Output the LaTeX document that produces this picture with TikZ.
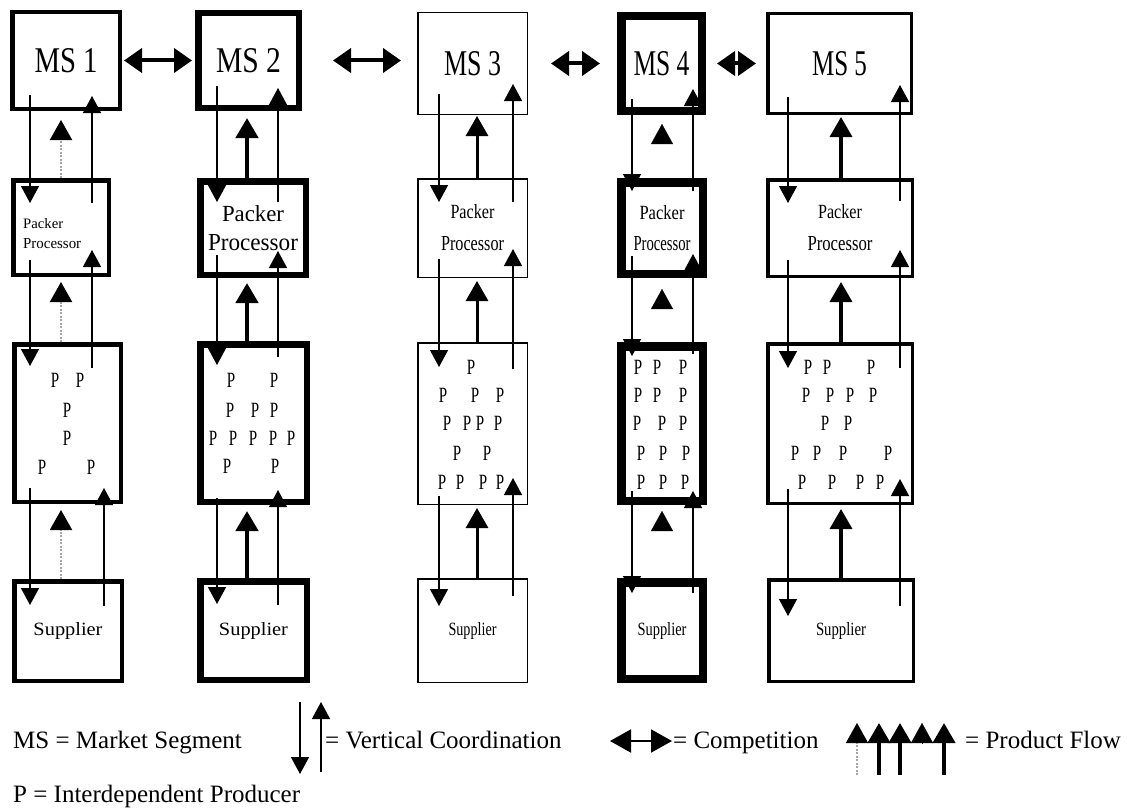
\documentclass[tikz,border=0pt]{standalone}
\usepackage{fontspec}
\setmainfont{Liberation Serif}
\usepackage{graphicx}
\usetikzlibrary{arrows.meta,calc}
\newcommand{\rt}[3]{\resizebox{#1pt}{#2pt}{#3}}
\newcommand{\Pl}{\scalebox{1}[1.45]{P}}
% box: name, x1, y1, x2, y2, line width, extra options, text
\newcommand{\bx}[8]{\node[bxs, line width=#6pt, minimum width={(#4-#2-#6)*1pt}, minimum height={(#5-#3-#6)*1pt}, #7] (#1) at ({(#2+#4)/2},{(#3+#5)/2}) {#8};}
% vertical coordination arrow: x coordinate, from, to, extension at start, extension at end
\newcommand{\va}[5]{\draw[vc, shorten <=-#4pt, shorten >=-#5pt] (#2 -| #1) -- (#3 -| #1);}
% product flow arrow: x coordinate, from, to, shorten at end, style
\newcommand{\pa}[5]{\draw[#5, shorten >=#4pt] (#2 -| #1) -- (#3 -| #1);}
\begin{document}
\begin{tikzpicture}[x=1pt,y=-1pt,
  bxs/.style={draw, rectangle, inner sep=0pt, align=center},
  vc/.style={line width=1.4pt, -{Triangle[width=18pt,length=17pt]}},
  pf/.style={-{Triangle[width=22pt,length=20pt]}},
  pfdot/.style={draw=black!35, line width=2pt, dash pattern=on 2pt off 1.5pt, -{Triangle[width=22pt,length=20pt,color=black]}},
  pfh/.style={line width=0.2pt, -{Triangle[width=22pt,length=20pt]}},
  comp/.style={line width=4pt, {Triangle[width=24pt,length=18pt]}-{Triangle[width=24pt,length=18pt]}},
  lcomp/.style={line width=2pt, {Triangle[width=23pt,length=21pt]}-{Triangle[width=23pt,length=21pt]}},
  pl/.style={inner sep=0pt, font=\fontsize{15}{15}\selectfont},
  leg/.style={inner sep=0pt, anchor=base west, font=\fontsize{25}{30}\selectfont}
]
\fill[white] (0,0) rectangle (1127,808);
\useasboundingbox (0,0) rectangle (1127,808);

% ---------- boxes ----------
\bx{ms1}{10}{10}{122}{111}{4.5}{}{\rt{63}{24}{MS 1}}
\bx{pp1}{11}{178}{111}{277}{4.5}{}{}
\bx{pb1}{12}{342}{123}{504}{4.5}{}{}
\bx{su1}{12}{579}{124}{683}{4.5}{}{\rt{69}{13}{Supplier}}
\node[inner sep=0pt, anchor=north west, align=left, font=\fontsize{10}{20}\selectfont] (pt1) at (23,218) {\rt{40}{10}{Packer}\\\rt{58}{10}{Processor}};

\bx{ms2}{195}{10}{302}{111}{6.5}{}{\rt{65}{24}{MS 2}}
\bx{pp2}{197}{178}{309}{278}{6.5}{font=\fontsize{16}{29}\selectfont}{\rt{62}{16}{Packer}\\\rt{90}{16}{Processor}}
\bx{pb2}{197}{341}{310}{505}{6.5}{}{}
\bx{su2}{197}{578}{310}{683}{6.5}{}{\rt{69}{13}{Supplier}}

\bx{ms3}{417}{12}{528}{115}{1.5}{}{\rt{57}{24}{MS 3}}
\bx{pp3}{417}{178}{528}{278}{1.5}{font=\fontsize{14}{32}\selectfont}{\rt{44}{14}{Packer}\\\rt{63}{14}{Processor}}
\bx{pb3}{417}{342}{528}{505}{1.5}{}{}
\bx{su3}{417}{578}{528}{683}{1.5}{}{\rt{48}{13}{Supplier}}

\bx{ms4}{617}{12}{706}{115}{8.5}{}{\rt{56}{24}{MS 4}}
\bx{pp4}{617}{178}{707}{278}{8.5}{font=\fontsize{14}{31}\selectfont}{\rt{45}{14}{Packer}\\\rt{57}{14}{Processor}}
\bx{pb4}{617}{342}{707}{505}{8.5}{}{}
\bx{su4}{617}{578}{707}{683}{8.5}{}{\rt{49}{13}{Supplier}}

\bx{ms5}{766}{12}{913}{115}{3.5}{}{\rt{55}{24}{MS 5}}
\bx{pp5}{766}{178}{914}{278}{3.5}{font=\fontsize{14}{32}\selectfont}{\rt{44}{14}{Packer}\\\rt{65}{14}{Processor}}
\bx{pb5}{766}{342}{914}{505}{3.5}{}{}
\bx{su5}{767}{578}{915}{683}{3.5}{}{\rt{50}{13}{Supplier}}

% ---------- interdependent producers ----------
\foreach \x/\y [count=\i] in {55/380,80/380,67/410,67/438,42/467,91/467}
  \node[pl] (qa\i) at (\x,\y) {\Pl};
\foreach \x/\y [count=\i] in {231/380,274/380,230/410,255/410,274/410,213/438,233/438,253/438,273/438,291/438,227/466,275/466}
  \node[pl] (qb\i) at (\x,\y) {\Pl};
\foreach \x/\y [count=\i] in {471/367,443/395,475/395,500/395,447/423,467/423,480/423,498/423,457/453,487/453,442/482,460/482,483/482,500/482}
  \node[pl] (qc\i) at (\x,\y) {\Pl};
\foreach \x/\y [count=\i] in {638/367,657/367,683/367,638/395,657/395,683/395,637/423,662/423,683/423,641/453,663/453,686/453,641/482,663/482,685/482}
  \node[pl] (qd\i) at (\x,\y) {\Pl};
\foreach \x/\y [count=\i] in {808/367,827/367,871/367,806/395,830/395,850/395,873/395,825/423,848/423,795/453,817/453,843/453,888/453,802/482,832/482,860/482,880/482}
  \node[pl] (qe\i) at (\x,\y) {\Pl};

% ---------- arrow columns ----------
\coordinate (c1L) at (30,0);  \coordinate (c1P) at (61,0);  \coordinate (c1R) at (92,0); \coordinate (c1S) at (104,0);
\coordinate (c2L) at (217,0); \coordinate (c2P) at (247,0); \coordinate (c2R) at (278,0);
\coordinate (c3L) at (439,0); \coordinate (c3P) at (477,0); \coordinate (c3R) at (513,0);
\coordinate (c4L) at (632,0); \coordinate (c4P) at (662,0); \coordinate (c4R) at (693,0);
\coordinate (c5L) at (788,0); \coordinate (c5P) at (841,0); \coordinate (c5R) at (900,0);

% column 1
\va{c1L}{ms1.south}{pp1.north}{16}{25}
\va{c1R}{pp1.north}{ms1.south}{25}{15}
\pa{c1P}{pp1.north}{ms1.south}{9}{pfdot}
\va{c1L}{pp1.south}{pb1.north}{17}{24}
\va{c1R}{pb1.north}{pp1.south}{26}{27}
\pa{c1P}{pb1.north}{pp1.south}{5}{pfdot}
\va{c1L}{pb1.south}{su1.north}{16}{26}
\va{c1S}{su1.north}{pb1.south}{27}{16}
\pa{c1P}{su1.north}{pb1.south}{6}{pfdot}

% column 2
\va{c2L}{ms2.south}{pp2.north}{25}{24}
\va{c2R}{pp2.north}{ms2.south}{24}{23}
\pa{c2P}{pp2.north}{ms2.south}{7}{pf,line width=4.5pt}
\va{c2L}{pp2.south}{pb2.north}{23}{24}
\va{c2R}{pb2.north}{pp2.south}{16}{27}
\pa{c2P}{pb2.north}{pp2.south}{5}{pf,line width=4.5pt}
\va{c2L}{pb2.south}{su2.north}{7}{26}
\va{c2R}{su2.north}{pb2.south}{27}{15}
\pa{c2P}{su2.north}{pb2.south}{6}{pf,line width=4.5pt}

% column 3
\va{c3L}{ms3.south}{pp3.north}{21}{24}
\va{c3R}{pp3.north}{ms3.south}{24}{31}
\pa{c3P}{pp3.north}{ms3.south}{1}{pf,line width=3pt}
\va{c3L}{pp3.south}{pb3.north}{19}{25}
\va{c3R}{pb3.north}{pp3.south}{27}{29}
\pa{c3P}{pb3.north}{pp3.south}{3}{pf,line width=3pt}
\va{c3L}{pb3.south}{su3.north}{9}{28}
\va{c3R}{su3.north}{pb3.south}{18}{27}
\pa{c3P}{su3.north}{pb3.south}{3}{pf,line width=3pt}

% column 4
\va{c4L}{ms4.south}{pp4.north}{16}{13}
\va{c4R}{pp4.north}{ms4.south}{13}{26}
\draw[pfh, shorten <=42pt, shorten >=9pt] (pp4.north -| c4P) -- (ms4.south -| c4P);
\va{c4L}{pp4.south}{pb4.north}{22}{14}
\va{c4R}{pb4.north}{pp4.south}{12}{24}
\draw[pfh, shorten <=41pt, shorten >=11pt] (pb4.north -| c4P) -- (pp4.south -| c4P);
\va{c4L}{pb4.south}{su4.north}{14}{15}
\va{c4R}{su4.north}{pb4.south}{15}{14}
\draw[pfh, shorten <=55pt, shorten >=6pt] (su4.north -| c4P) -- (pb4.south -| c4P);

% column 5
\va{c5L}{ms5.south}{pp5.north}{18}{25}
\va{c5R}{pp5.north}{ms5.south}{23}{30}
\pa{c5P}{pp5.north}{ms5.south}{2}{pf,line width=3.5pt}
\va{c5L}{pp5.south}{pb5.north}{18}{26}
\va{c5R}{pb5.north}{pp5.south}{26}{28}
\pa{c5P}{pb5.north}{pp5.south}{4}{pf,line width=3.5pt}
\va{c5L}{pb5.south}{su5.north}{16}{38}
\va{c5R}{su5.north}{pb5.south}{28}{26}
\pa{c5P}{su5.north}{pb5.south}{4}{pf,line width=3.5pt}

% ---------- competition ----------
\draw[comp, shorten <=2pt, shorten >=3pt] (ms1.east) -- (ms2.west);
\draw[comp, shorten <=31pt, shorten >=16pt] (ms2.east) -- (ms2.east -| ms3.west);
\draw[comp, shorten <=23pt, shorten >=17pt] (ms3.east) -- (ms4.west);
\draw[comp, shorten <=11pt, shorten >=10pt] (ms4.east) -- (ms5.west);

% ---------- legend ----------
\node[leg] (l1) at (13,748) {MS = Market Segment};
\node[leg] (l2) at (13,802) {P = Interdependent Producer};
\coordinate (vd1) at (300,702); \coordinate (vd2) at (300,774);
\draw[vc] (vd1) -- (vd2);
\coordinate (vu1) at (321,772); \coordinate (vu2) at (321,702);
\draw[vc] (vu1) -- (vu2);
\node[leg] (l3) at (325,748) {= Vertical Coordination};
\coordinate (lc1) at (610,741); \coordinate (lc2) at (672,741);
\draw[lcomp] (lc1) -- (lc2);
\node[leg] (l4) at (673,748) {= Competition};
\coordinate (f1a) at (857,775); \coordinate (f1b) at (857,723);
\coordinate (f2a) at (879,775); \coordinate (f2b) at (879,723);
\coordinate (f3a) at (900,775); \coordinate (f3b) at (900,723);
\coordinate (f4a) at (922,743); \coordinate (f4b) at (922,723);
\coordinate (f5a) at (944,775); \coordinate (f5b) at (944,723);
\draw[pfdot, line width=1.5pt] (f1a) -- (f1b);
\draw[pf, line width=4pt] (f2a) -- (f2b);
\draw[pf, line width=4pt] (f3a) -- (f3b);
\draw[pfh] (f4a) -- (f4b);
\draw[pf, line width=4pt] (f5a) -- (f5b);
\node[leg] (l5) at (965,748) {= Product Flow};
\end{tikzpicture}
\end{document}
